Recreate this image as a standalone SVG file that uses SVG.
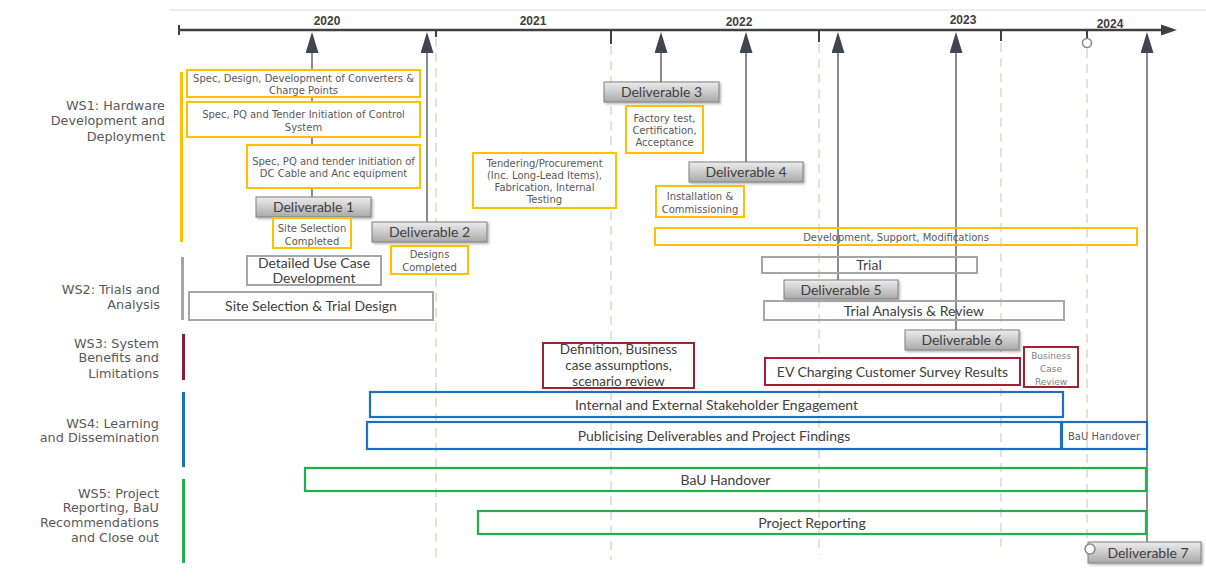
<svg xmlns="http://www.w3.org/2000/svg" width="1206" height="579" viewBox="0 0 1206 579">
<defs>
<linearGradient id="dg" x1="0" y1="0" x2="0" y2="1">
<stop offset="0" stop-color="#EDEDED"/>
<stop offset="1" stop-color="#A9A9A9"/>
</linearGradient>
<filter id="sh" x="-10%" y="-20%" width="125%" height="160%">
<feDropShadow dx="1.5" dy="1.5" stdDeviation="1" flood-color="#000" flood-opacity="0.3"/>
</filter>
<marker id="ah" markerUnits="userSpaceOnUse" markerWidth="21" markerHeight="13" viewBox="0 0 21 13" refX="0" refY="6.5" orient="auto">
<path d="M0,0 L21,6.5 L0,13 Z" fill="#3F4650"/>
</marker>
<style>
.ybox{fill:#fff;stroke:#FFC000;stroke-width:2}
.gbox{fill:none;stroke:#A6A6A6;stroke-width:2}
.rbox{fill:#fff;stroke:#A31F34;stroke-width:2}
.bbox{fill:none;stroke:#1F6FC0;stroke-width:2.2}
.grbox{fill:none;stroke:#1FB04C;stroke-width:2.2}
.del{fill:url(#dg);stroke:#7F7F7F;stroke-width:1;filter:url(#sh)}
.vt{font-family:"DejaVu Sans",Verdana,sans-serif;font-size:10px;fill:#595959;text-anchor:middle}
.ct{font-family:Lato,"Liberation Sans",sans-serif;font-size:14px;fill:#404040;text-anchor:middle}
.ws{font-family:"DejaVu Sans",Verdana,sans-serif;font-size:12.8px;fill:#595959;text-anchor:end}
.yr{font-family:"Liberation Sans",Arial,sans-serif;font-weight:bold;font-size:12px;fill:#404040;text-anchor:middle}
.dash{stroke:#E6E2D2;stroke-width:2;stroke-dasharray:9 6;fill:none}
.con{stroke:#6F6F6F;stroke-width:1.6;fill:none;marker-end:url(#ah)}
.tick{stroke:#404040;stroke-width:2}
</style>
</defs>

<g id="background">
<line x1="170" y1="10" x2="1206" y2="10" stroke="#DADADA" stroke-width="1"/>
</g>

<g id="gridlines">
<line class="dash" x1="436" y1="38" x2="436" y2="562"/>
<line class="dash" x1="611" y1="46" x2="611" y2="560"/>
<line class="dash" x1="819" y1="44" x2="819" y2="555"/>
<line class="dash" x1="1001" y1="43" x2="1001" y2="547"/>
<line class="dash" x1="1087" y1="49" x2="1087" y2="540"/>
</g>

<g id="timeline">
<line x1="179" y1="30" x2="1164" y2="30" stroke="#404040" stroke-width="2.5"/>
<line x1="179" y1="25" x2="179" y2="35" stroke="#404040" stroke-width="2"/>
<polygon points="1161,24.5 1177,30 1161,35.5" fill="#404040"/>
<line class="tick" x1="436" y1="30" x2="436" y2="37"/>
<line class="tick" x1="611" y1="30" x2="611" y2="44"/>
<line class="tick" x1="819" y1="30" x2="819" y2="42"/>
<line class="tick" x1="1001" y1="30" x2="1001" y2="41"/>
<line class="tick" x1="1087" y1="30" x2="1087" y2="38"/>
<circle cx="1087" cy="43" r="4.5" fill="#fff" stroke="#8A8A8A" stroke-width="1.6"/>
<text class="yr" x="327" y="25">2020</text>
<text class="yr" x="533" y="25">2021</text>
<text class="yr" x="739" y="26">2022</text>
<text class="yr" x="963" y="24">2023</text>
<text class="yr" x="1110" y="28">2024</text>
</g>

<g id="connectors">
<path class="con" d="M312,197 L312,53"/>
<path class="con" d="M427,222 L427,53"/>
<path class="con" d="M661,82 L661,53"/>
<path class="con" d="M746,162 L746,53"/>
<path class="con" d="M838,280 L838,53"/>
<path class="con" d="M956,330 L956,53"/>
<path class="con" d="M1147,542 L1147,53"/>
</g>

<g id="ws1">
<rect x="180" y="72" width="3" height="170" fill="#FFC000"/>
<text class="ws"><tspan x="165" y="109.5">WS1: Hardware</tspan><tspan x="165" y="125">Development and</tspan><tspan x="165" y="140.5">Deployment</tspan></text>
</g>
<g id="ws2">
<rect x="181" y="257" width="3" height="63" fill="#A6A6A6"/>
<text class="ws"><tspan x="160" y="293.5">WS2: Trials and</tspan><tspan x="160" y="308.5">Analysis</tspan></text>
</g>
<g id="ws3">
<rect x="182" y="334" width="3" height="46" fill="#8B1E3F"/>
<text class="ws"><tspan x="159" y="347.5">WS3: System</tspan><tspan x="159" y="362">Benefits and</tspan><tspan x="159" y="377.5">Limitations</tspan></text>
</g>
<g id="ws4">
<rect x="182" y="392" width="3" height="75" fill="#1F6FC0"/>
<text class="ws"><tspan x="159" y="427.5">WS4: Learning</tspan><tspan x="159" y="442">and Dissemination</tspan></text>
</g>
<g id="ws5">
<rect x="182" y="479" width="3" height="84" fill="#1FB04C"/>
<text class="ws"><tspan x="159" y="497.5">WS5: Project</tspan><tspan x="159" y="512">Reporting, BaU</tspan><tspan x="159" y="527">Recommendations</tspan><tspan x="159" y="542">and Close out</tspan></text>
</g>

<g id="spec-converters">
<rect class="ybox" x="187" y="70" width="233" height="27"/>
<text class="vt"><tspan x="303.5" y="82">Spec, Design, Development of Converters &amp;</tspan><tspan x="303.5" y="94">Charge Points</tspan></text>
</g>
<g id="spec-control">
<rect class="ybox" x="187" y="102" width="233" height="35"/>
<text class="vt"><tspan x="303.5" y="118">Spec, PQ and Tender Initiation of Control</tspan><tspan x="303.5" y="130.5">System</tspan></text>
</g>
<g id="spec-dc-cable">
<rect class="ybox" x="247" y="145" width="173" height="43"/>
<text class="vt"><tspan x="333.5" y="164.5">Spec, PQ and tender initiation of</tspan><tspan x="333.5" y="177">DC Cable and Anc equipment</tspan></text>
</g>
<g id="deliverable-1">
<rect class="del" x="256" y="197" width="115" height="20"/>
<text class="ct" x="313.5" y="212">Deliverable 1</text>
</g>
<g id="site-selection-completed">
<rect class="ybox" x="273" y="218" width="78" height="30"/>
<text class="vt"><tspan x="312" y="231.5">Site Selection</tspan><tspan x="312" y="244.5">Completed</tspan></text>
</g>
<g id="deliverable-2">
<rect class="del" x="372" y="222" width="115" height="20"/>
<text class="ct" x="429.5" y="237">Deliverable 2</text>
</g>
<g id="designs-completed">
<rect class="ybox" x="391" y="246" width="77" height="28"/>
<text class="vt"><tspan x="429.5" y="258">Designs</tspan><tspan x="429.5" y="271">Completed</tspan></text>
</g>
<g id="tendering">
<rect class="ybox" x="473" y="153" width="143" height="55"/>
<text class="vt"><tspan x="544.5" y="166.5">Tendering/Procurement</tspan><tspan x="544.5" y="178.5">(Inc. Long-Lead Items),</tspan><tspan x="544.5" y="190.5">Fabrication, Internal</tspan><tspan x="544.5" y="202.5">Testing</tspan></text>
</g>
<g id="deliverable-3">
<rect class="del" x="604" y="82" width="115" height="20"/>
<text class="ct" x="661.5" y="97">Deliverable 3</text>
</g>
<g id="factory-test">
<rect class="ybox" x="626" y="106" width="77" height="47"/>
<text class="vt"><tspan x="664.5" y="121.5">Factory test,</tspan><tspan x="664.5" y="134">Certification,</tspan><tspan x="664.5" y="146">Acceptance</tspan></text>
</g>
<g id="deliverable-4">
<rect class="del" x="689" y="162" width="114" height="20"/>
<text class="ct" x="746" y="177">Deliverable 4</text>
</g>
<g id="installation">
<rect class="ybox" x="656" y="186" width="88" height="31"/>
<text class="vt"><tspan x="700" y="199.5">Installation &amp;</tspan><tspan x="700" y="212.5">Commissioning</tspan></text>
</g>
<g id="dev-support">
<rect class="ybox" x="655" y="228" width="482" height="17" style="fill:none"/>
<text class="vt" x="896" y="240.5">Development, Support, Modifications</text>
</g>

<g id="detailed-use-case">
<rect class="gbox" x="247" y="256" width="134" height="29"/>
<text class="ct"><tspan x="314" y="268">Detailed Use Case</tspan><tspan x="314" y="283">Development</tspan></text>
</g>
<g id="site-selection-trial-design">
<rect class="gbox" x="189" y="292" width="244" height="28"/>
<text class="ct" x="311" y="311">Site Selection &amp; Trial Design</text>
</g>
<g id="trial">
<rect class="gbox" x="762" y="257" width="215" height="16"/>
<text class="ct" x="869" y="270">Trial</text>
</g>
<g id="deliverable-5">
<rect class="del" x="784" y="280" width="114" height="19"/>
<text class="ct" x="841" y="294.5">Deliverable 5</text>
</g>
<g id="trial-analysis">
<rect class="gbox" x="764" y="301" width="300" height="19"/>
<text class="ct" x="914" y="315.5">Trial Analysis &amp; Review</text>
</g>
<g id="deliverable-6">
<rect class="del" x="905" y="330" width="114" height="20"/>
<text class="ct" x="962" y="345">Deliverable 6</text>
</g>

<g id="definition">
<rect class="rbox" x="543" y="343" width="151" height="45"/>
<text class="ct" style="font-size:13.5px"><tspan x="618.5" y="354">Definition, Business</tspan><tspan x="618.5" y="370">case assumptions,</tspan><tspan x="618.5" y="386">scenario review</tspan></text>
</g>
<g id="ev-survey">
<rect class="rbox" x="765" y="358" width="255" height="27"/>
<text class="ct" x="892.5" y="376.5">EV Charging Customer Survey Results</text>
</g>
<g id="business-case-review">
<rect class="rbox" x="1024" y="347" width="54" height="40"/>
<text class="vt" style="font-size:9px;fill:#7F7F7F"><tspan x="1051" y="359">Business</tspan><tspan x="1051" y="372">Case</tspan><tspan x="1051" y="384.5">Review</tspan></text>
</g>

<g id="stakeholder-engagement">
<rect class="bbox" x="370" y="392" width="693" height="25"/>
<text class="ct" x="716.5" y="409.5">Internal and External Stakeholder Engagement</text>
</g>
<g id="publicising">
<rect class="bbox" x="367" y="422" width="694" height="27"/>
<text class="ct" x="714" y="440.5">Publicising Deliverables and Project Findings</text>
</g>
<g id="bau-handover-ws4">
<rect class="bbox" x="1062" y="422" width="85" height="27"/>
<text class="vt" x="1104" y="439.5">BaU Handover</text>
</g>

<g id="bau-handover">
<rect class="grbox" x="305" y="468" width="841" height="23"/>
<text class="ct" x="725.5" y="484.5">BaU Handover</text>
</g>
<g id="project-reporting">
<rect class="grbox" x="478" y="511" width="668" height="23"/>
<text class="ct" x="812" y="527.5">Project Reporting</text>
</g>

<g id="deliverable-7">
<rect class="del" x="1088" y="542" width="113" height="21"/>
<circle cx="1090" cy="549" r="5" fill="#fff" stroke="#8A8A8A" stroke-width="1.6"/>
<text class="ct" x="1148" y="557.5">Deliverable 7</text>
</g>
</svg>
